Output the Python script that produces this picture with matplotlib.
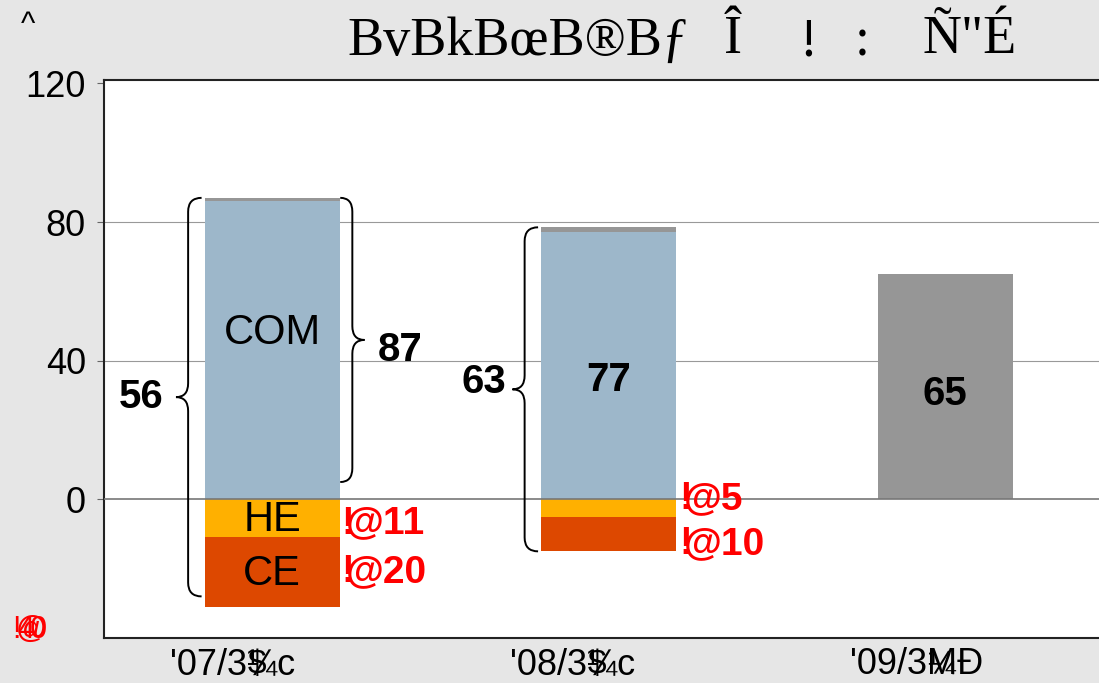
import matplotlib
matplotlib.use("Agg")
import matplotlib.pyplot as plt
from matplotlib.path import Path
from matplotlib.patches import PathPatch

plt.rcParams['font.family'] = ['Liberation Sans', 'DejaVu Sans']

# category labels as drawn (garbled glyphs overlap in the source)
categories = ["'07/3\u00bcc", "'08/3\u00bcc", "'09/3M\u00d0"]
cat_overlays = ["$", "$", "\u00bc"]
com = [86, 77, 0]
other = [1, 1.5, 65]
he = [-11, -5, 0]
ce = [-20, -10, 0]
totals = ["87", "77", "65"]
net = ["56", "63"]
neg_labels_he = ["@11", "@5"]
neg_labels_ce = ["@20", "@10"]
yticks = [0, 40, 80, 120]
title_parts = ["BvBkB\u0153B\u00aeB\u0192", "\u00ce", "!", ":", "\u00d1\"\u00c9"]

C_COM = '#9db7ca'
C_GRAY = '#969696'
C_HE = '#ffb000'
C_CE = '#dd4800'

W, H = 1099, 683
fig = plt.figure(figsize=(10.99, 6.83), dpi=100, facecolor='#e6e6e6')
ax = fig.add_axes([104/W, 1-638/H, 1009.5/W, (638-80)/H])
ax.set_facecolor('white')
ax.set_xlim(-0.5, 2.5)
ax.set_ylim(-40, 121)

x = [0, 1, 2]
w = 0.4
ax.bar(x, com, w, color=C_COM, zorder=2)
ax.bar(x, other, w, bottom=com, color=C_GRAY, zorder=2)
ax.bar(x, he, w, color=C_HE, zorder=2)
ax.bar(x, ce, w, bottom=he, color=C_CE, zorder=2)

for yv in [40, 80]:
    ax.axhline(yv, color='#999999', lw=0.8, zorder=1)
ax.axhline(0, color='#777777', lw=1.2, zorder=3)

for s in ['left', 'bottom', 'top']:
    ax.spines[s].set_color('#222222')
    ax.spines[s].set_linewidth(1.5)
ax.spines['right'].set_visible(False)
ax.set_yticks(yticks)
ax.set_yticklabels([str(v) for v in yticks], fontsize=26)
ax.tick_params(axis='y', length=5, width=0.8, color='#666666', pad=8)
ax.set_xticks(x)
ax.set_xticklabels([''] * len(x))
ax.tick_params(axis='x', length=0)

# category labels (left-shifted as in the source, with overlapping glyphs)
label_left_px = [170, 510, 850]
overlay_left_px = [248, 588, 927]
for lab, lx in zip(categories, label_left_px):
    fig.text(lx/W, 1-665/H, lab, fontsize=26, ha='left', va='center')
for ov, ox in zip(cat_overlays, overlay_left_px):
    fig.text(ox/W, 1-665/H, ov, fontsize=24, ha='left', va='center')

# garbled -40 label (overlapping glyphs)
for ch, px in [('!', 16), ('4', 26), ('@', 31), ('0', 38)]:
    fig.text(px/W, 1-630/H, ch, color='red', fontsize=22, ha='center', va='center')

fig.text(28/W, 1-25/H, '^', fontsize=22, ha='center', va='center')
serif = ['Liberation Serif', 'DejaVu Serif']
fig.text(347/W, 1-42/H, title_parts[0], fontsize=39, family=serif, ha='left', va='center')
fig.text(733/W, 1-40/H, title_parts[1], fontsize=39, family=serif, ha='center', va='center')
fig.text(808/W, 1-42/H, title_parts[2], fontsize=39, family=serif, ha='center', va='center')
fig.text(862/W, 1-42/H, title_parts[3], fontsize=39, family=serif, ha='center', va='center')
fig.text(1017/W, 1-40/H, title_parts[4], fontsize=39, family=serif, ha='right', va='center')


def brace(ax, xv, y0, y1, h, t, r=4.0, lw=1.4):
    ym = (y0 + y1) / 2
    verts = [
        (xv + h, y1), (xv, y1), (xv, y1 - r),
        (xv, ym + r),
        (xv, ym), (xv + t, ym),
        (xv, ym), (xv, ym - r),
        (xv, y0 + r),
        (xv, y0), (xv + h, y0),
    ]
    codes = [Path.MOVETO, Path.CURVE3, Path.CURVE3, Path.LINETO,
             Path.CURVE3, Path.CURVE3, Path.CURVE3, Path.CURVE3,
             Path.LINETO, Path.CURVE3, Path.CURVE3]
    ax.add_patch(PathPatch(Path(verts, codes), fill=False, lw=lw, color='black',
                           zorder=4, clip_on=False))

tot0 = com[0] + other[0]
tot1 = com[1] + other[1]
brace(ax, -0.25, he[0] + ce[0] + 3, tot0, 0.04, -0.036)
brace(ax, 0.238, 5, tot0, -0.036, 0.036)
brace(ax, 0.75, he[1] + ce[1], tot1, 0.04, -0.036)

big = dict(fontsize=29, fontweight='bold', ha='center', va='center')
ax.text(-0.39, (tot0 + he[0] + ce[0] + 3) / 2, net[0], **big)
ax.text(0.38, tot0 / 2 - 0.5, totals[0], **big)
ax.text(0.63, (tot1 + he[1] + ce[1]) / 2 + 2, net[1], **big)
ax.text(1, 34.5, totals[1], **big)
ax.text(2, 30.5, totals[2], **big)

ax.text(0, 48, 'COM', fontsize=30, ha='center', va='center')
ax.text(0, he[0] / 2 - 0.5, 'HE', fontsize=30, ha='center', va='center')
ax.text(0, he[0] + ce[0] / 2 - 0.5, 'CE', fontsize=30, ha='center', va='center')

red = dict(fontsize=28, fontweight='bold', color='red', va='center')
def red_label(xl, yv, s):
    ax.text(xl, yv, '!', ha='left', **red)
    ax.text(xl + 0.012, yv, s, ha='left', **red)

red_label(0.205, -7, neg_labels_he[0])
red_label(0.205, -21, neg_labels_ce[0])
red_label(1.21, 0, neg_labels_he[1])
red_label(1.21, -13, neg_labels_ce[1])

fig.savefig('out.png', dpi=100, facecolor=fig.get_facecolor())
